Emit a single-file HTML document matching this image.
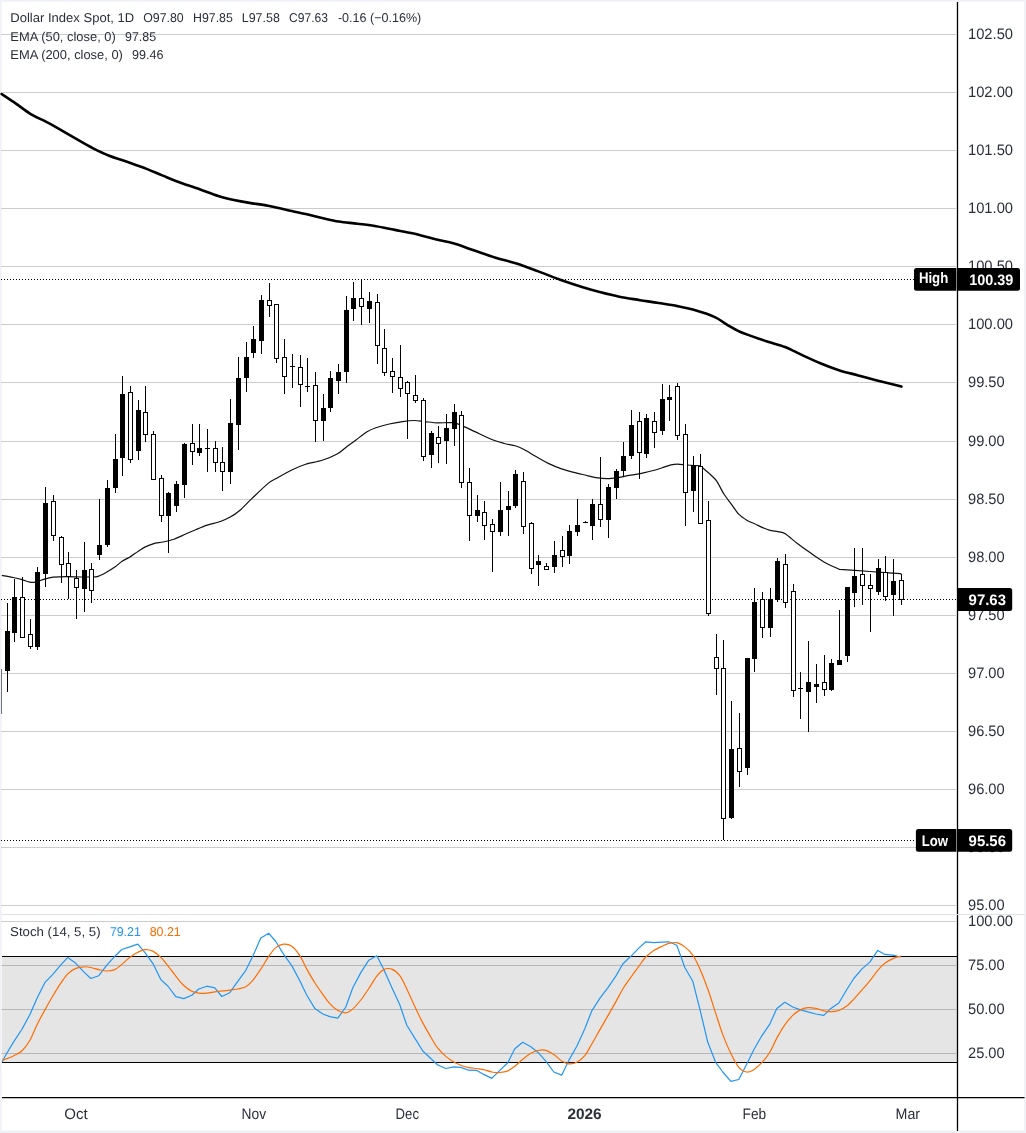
<!DOCTYPE html>
<html><head><meta charset="utf-8"><title>Dollar Index Spot</title>
<style>html,body{margin:0;padding:0;background:#fff;}body{width:1026px;height:1133px;overflow:hidden;font-family:"Liberation Sans",sans-serif;}svg text{font-family:"Liberation Sans",sans-serif;text-rendering:geometricPrecision;}svg{will-change:transform;transform:translateZ(0);}</style>
</head><body>
<svg width="1026" height="1133" viewBox="0 0 1026 1133" style="display:block" font-family="'Liberation Sans', sans-serif">
<rect x="0" y="0" width="1026" height="1133" fill="#eff1f6"/>
<rect x="1.6" y="1.7" width="1022.6" height="1128.8" fill="#fff"/>
<path d="M1 34.5H956 M1 92.5H956 M1 150.5H956 M1 208.5H956 M1 266.5H956 M1 324.5H956 M1 382.5H956 M1 441.5H956 M1 499.5H956 M1 557.5H956 M1 615.5H956 M1 673.5H956 M1 731.5H956 M1 789.5H956 M1 847.5H956 M1 905.5H956 M1 921.5H956 M1 965.5H956 M1 1009.5H956 M1 1053.5H956" stroke="#cccccc" stroke-width="1" fill="none" shape-rendering="crispEdges"/>
<rect x="1.5" y="957" width="955" height="105" fill="#000" fill-opacity="0.1" shape-rendering="crispEdges"/>
<path d="M1.5 956.5H957M1.5 1062.5H957" stroke="#000" stroke-width="1" shape-rendering="crispEdges"/>
<path d="M1 279.5H957" stroke="#000" stroke-width="1" stroke-dasharray="1 2" shape-rendering="crispEdges"/>
<path d="M1 599.5H957" stroke="#000" stroke-width="1" stroke-dasharray="1 2" shape-rendering="crispEdges"/>
<path d="M1 840.5H957" stroke="#000" stroke-width="1" stroke-dasharray="1 2" shape-rendering="crispEdges"/>
<path d="M1.6 94.0C3.9 95.6 10.7 100.0 15.6 103.4C20.5 106.8 26.0 111.2 31.2 114.3C36.4 117.4 41.6 119.3 46.8 122.1C52.0 124.8 57.2 127.8 62.4 130.8C67.6 133.8 72.8 136.9 78.0 139.9C83.2 142.9 88.4 145.9 93.6 148.6C98.8 151.2 104.0 153.7 109.2 155.8C114.4 157.9 118.6 158.9 124.8 161.1C131.0 163.3 140.4 166.5 146.6 168.9C152.8 171.3 157.0 173.3 162.2 175.4C167.4 177.5 171.6 179.4 177.8 181.7C184.0 184.0 192.8 186.8 199.6 189.2C206.3 191.6 212.6 194.2 218.3 196.0C224.0 197.8 228.7 198.9 233.9 200.1C239.1 201.2 243.8 202.0 249.5 202.9C255.2 203.8 261.9 204.5 268.2 205.7C274.4 206.9 280.8 208.7 287.0 210.1C293.2 211.5 300.2 212.9 305.7 214.1C311.2 215.3 314.5 216.3 320.0 217.5C325.5 218.7 332.5 220.5 338.7 221.5C344.9 222.5 351.2 222.9 357.4 223.7C363.6 224.5 369.9 225.2 376.1 226.2C382.4 227.2 388.6 228.7 394.9 229.9C401.1 231.1 406.9 232.0 413.6 233.6C420.4 235.2 428.6 237.6 435.4 239.3C442.1 241.0 447.3 241.6 454.1 243.6C460.9 245.6 469.2 248.8 476.0 251.1C482.8 253.4 487.9 255.3 494.7 257.4C501.4 259.5 509.2 261.3 516.5 263.6C523.8 265.9 531.0 268.7 538.3 271.4C545.6 274.1 552.9 277.2 560.2 279.8C567.5 282.4 575.2 284.9 582.0 287.0C588.8 289.1 594.5 290.7 600.7 292.3C606.9 293.9 612.9 295.4 619.4 296.7C625.9 298.0 633.5 299.1 640.0 300.2C646.5 301.2 652.5 302.0 658.7 303.0C664.9 304.0 671.2 304.9 677.4 306.1C683.6 307.4 689.9 308.7 696.1 310.5C702.4 312.3 709.7 314.7 714.9 317.1C720.1 319.5 723.1 322.5 727.3 324.9C731.4 327.3 735.6 329.8 739.8 331.7C744.0 333.6 747.6 334.7 752.3 336.4C757.0 338.1 762.4 339.9 767.9 341.7C773.4 343.5 779.3 344.8 785.0 347.0C790.7 349.2 796.2 352.4 802.2 355.1C808.2 357.9 814.7 360.9 820.9 363.5C827.1 366.1 833.4 368.4 839.6 370.4C845.8 372.4 852.1 373.7 858.3 375.4C864.5 377.1 869.8 378.5 877.0 380.4C884.2 382.3 897.3 385.6 901.4 386.6" stroke="#000" stroke-width="2.6" fill="none" stroke-linejoin="round" stroke-linecap="round"/>
<path d="M1.8 575.3C3.3 575.6 10.5 576.9 13.2 577.5C15.9 578.1 19.9 579.1 22.1 579.7C24.3 580.3 28.0 581.8 29.8 582.1C31.6 582.4 33.4 582.5 35.3 582.1C37.2 581.7 41.8 579.9 44.2 579.2C46.6 578.5 50.1 577.5 53.0 577.2C55.9 576.9 62.1 576.6 66.2 576.6C70.3 576.6 79.8 577.0 83.9 577.0C88.0 577.0 94.3 577.2 97.2 576.6C100.1 576.0 103.7 573.9 106.0 572.6C108.3 571.3 112.7 568.6 114.8 567.1C116.9 565.6 120.1 562.5 122.1 561.2C124.1 559.9 127.7 558.4 129.9 557.0C132.1 555.6 136.6 552.2 138.7 550.9C140.8 549.6 143.4 547.8 145.3 546.9C147.2 546.0 150.7 544.5 153.1 543.8C155.5 543.1 160.2 542.6 163.0 542.0C165.8 541.4 171.1 540.2 174.0 539.2C176.9 538.2 182.2 535.6 185.1 534.3C188.0 533.0 193.2 530.7 196.1 529.5C199.0 528.3 204.0 526.2 207.2 525.1C210.4 524.0 217.3 522.6 220.4 521.5C223.5 520.4 227.6 518.6 230.3 517.1C233.0 515.6 237.5 512.4 240.3 510.0C243.1 507.6 247.8 502.4 251.5 498.9C255.2 495.4 264.6 486.3 268.1 483.4C271.6 480.5 274.9 479.3 278.0 477.5C281.1 475.7 287.5 472.0 291.2 470.2C294.9 468.4 301.5 465.5 305.6 464.2C309.7 462.9 317.9 461.7 322.2 460.3C326.5 458.9 334.3 455.5 337.6 453.7C340.9 451.9 344.5 448.3 347.0 446.5C349.5 444.7 353.3 441.9 356.0 439.9C358.7 437.9 364.4 433.3 367.1 431.7C369.8 430.1 373.0 428.8 375.9 427.8C378.8 426.8 385.7 424.8 389.2 424.0C392.7 423.2 399.0 422.1 402.4 421.6C405.8 421.1 411.7 420.5 414.6 420.5C417.5 420.5 421.4 421.3 424.5 421.6C427.6 421.9 433.9 422.8 437.7 422.9C441.5 423.0 450.0 422.3 453.2 422.7C456.4 423.1 459.0 424.4 462.0 425.6C465.0 426.8 471.4 430.0 475.5 431.9C479.6 433.8 489.3 438.5 493.1 440.0C496.9 441.5 501.3 442.7 504.2 443.5C507.1 444.3 512.6 445.0 515.2 445.8C517.8 446.6 521.3 448.1 524.0 449.5C526.7 450.9 531.9 454.2 535.1 456.1C538.3 458.0 544.8 461.7 548.3 463.4C551.8 465.1 558.1 467.7 561.6 468.9C565.1 470.1 571.3 471.8 574.8 472.7C578.3 473.6 585.3 475.1 588.1 475.8C590.9 476.5 593.5 477.2 596.0 477.6C598.5 478.0 604.2 478.7 607.1 478.7C610.0 478.7 615.2 478.0 618.1 477.6C621.0 477.2 626.3 475.9 629.2 475.4C632.1 474.9 637.0 474.3 640.2 473.6C643.4 472.9 650.5 471.3 653.4 470.5C656.3 469.7 659.9 468.5 662.3 467.7C664.7 466.9 669.0 465.3 671.1 464.8C673.2 464.3 675.6 464.1 677.7 464.1C679.8 464.1 684.2 464.8 686.6 465.0C689.0 465.2 693.5 465.3 695.4 465.5C697.3 465.7 698.8 465.1 700.6 466.2C702.4 467.3 707.0 471.5 709.1 473.4C711.2 475.3 714.5 478.1 716.5 480.8C718.5 483.5 721.9 490.9 723.9 494.0C725.9 497.1 729.3 501.4 731.3 504.1C733.3 506.8 736.6 512.0 738.7 514.2C740.8 516.4 745.1 519.2 747.2 520.5C749.3 521.8 752.6 522.8 754.6 523.7C756.6 524.6 759.9 526.5 762.0 527.4C764.1 528.3 767.9 529.7 770.0 530.3C772.1 530.9 775.9 531.1 777.9 531.6C779.9 532.1 782.7 532.2 785.3 533.8C787.9 535.4 794.0 541.0 797.4 543.6C800.8 546.2 807.2 550.7 810.7 553.1C814.2 555.5 820.1 559.7 823.9 561.9C827.7 564.1 837.4 568.4 839.5 569.4L855 570.4L870 571.5L885 572.6L900.5 573.7L901.4 574.3" stroke="#111" stroke-width="1.2" fill="none" stroke-linejoin="round"/>
<path d="M1.5 669V714" stroke="#70737b" stroke-width="1" shape-rendering="crispEdges"/>
<g shape-rendering="crispEdges">
<path d="M7.5 603V692 M14.5 579V642 M22.5 577V638 M30.5 619V649 M37.5 567V650 M45.5 487V587 M53.5 495V541 M61.5 536V583 M68.5 552V599 M76.5 570V619 M84.5 542V612 M91.5 563V603 M99.5 499V560 M107.5 480V547 M115.5 434V493 M122.5 376V476 M130.5 386V463 M138.5 400V460 M145.5 386V442 M153.5 431V480 M161.5 475V522 M168.5 492V553 M176.5 481V512 M184.5 443V498 M192.5 424V465 M199.5 424V456 M207.5 429V472 M215.5 441V472 M222.5 447V491 M230.5 399V484 M238.5 357V450 M246.5 342V392 M253.5 326V358 M261.5 295V354 M269.5 283V317 M276.5 304V363 M284.5 339V394 M292.5 354V388 M300.5 355V407 M307.5 358V392 M315.5 372V442 M323.5 394V441 M330.5 371V412 M338.5 364V394 M346.5 296V383 M353.5 282V321 M361.5 279V325 M369.5 292V323 M377.5 294V364 M384.5 329V376 M392.5 358V393 M400.5 345V397 M407.5 381V439 M415.5 375V403 M423.5 398V461 M431.5 431V468 M438.5 426V463 M446.5 414V464 M454.5 404V446 M461.5 411V488 M469.5 468V541 M477.5 495V522 M484.5 501V540 M492.5 519V572 M500.5 482V536 M508.5 491V536 M515.5 470V508 M523.5 472V534 M531.5 522V574 M538.5 555V586 M546.5 563V570 M554.5 541V573 M562.5 536V567 M569.5 525V564 M577.5 499V536 M585.5 521V522 M592.5 499V540 M600.5 457V527 M608.5 484V538 M616.5 469V499 M623.5 442V477 M631.5 410V459 M639.5 412V479 M646.5 414V458 M654.5 412V448 M662.5 384V435 M669.5 385V421 M677.5 383V440 M685.5 424V526 M693.5 456V512 M700.5 454V524 M708.5 501V616 M716.5 634V695 M723.5 640V840 M731.5 701V819 M739.5 713V787 M747.5 658V775 M754.5 588V672 M762.5 592V638 M770.5 588V637 M777.5 558V602 M785.5 554V608 M793.5 584V697 M800.5 672V719 M808.5 641V732 M816.5 664V703 M824.5 655V696 M831.5 659V691 M839.5 610V665 M847.5 587V662 M854.5 548V607 M862.5 548V605 M870.5 574V632 M878.5 559V595 M885.5 556V601 M893.5 559V616 M901.5 574V605" stroke="#000" stroke-width="1" fill="none"/>
<path d="M5.0 631h5V671h-5z M12.0 597h5V633h-5z M35.0 572h5V647h-5z M43.0 503h5V574h-5z M82.0 570h5V589h-5z M97.0 545h5V555h-5z M105.0 488h5V545h-5z M113.0 459h5V488h-5z M120.0 394h5V458h-5z M136.0 410h5V451h-5z M166.0 493h5V516h-5z M174.0 484h5V506h-5z M182.0 444h5V485h-5z M197.0 448h5V453h-5z M228.0 423h5V472h-5z M236.0 378h5V425h-5z M244.0 357h5V378h-5z M251.0 339h5V353h-5z M259.0 300h5V341h-5z M321.0 408h5V421h-5z M328.0 378h5V408h-5z M336.0 372h5V381h-5z M344.0 310h5V372h-5z M351.0 298h5V309h-5z M367.0 301h5V309h-5z M429.0 433h5V455h-5z M444.0 428h5V441h-5z M452.0 412h5V429h-5z M475.0 510h5V516h-5z M498.0 510h5V532h-5z M506.0 506h5V510h-5z M513.0 474h5V506h-5z M536.0 561h5V565h-5z M552.0 555h5V567h-5z M567.0 531h5V556h-5z M575.0 525h5V532h-5z M590.0 504h5V526h-5z M606.0 487h5V520h-5z M614.0 471h5V488h-5z M621.0 456h5V471h-5z M629.0 425h5V456h-5z M644.0 418h5V454h-5z M660.0 399h5V431h-5z M667.0 397h5V400h-5z M691.0 465h5V491h-5z M729.0 749h5V818h-5z M745.0 658h5V768h-5z M752.0 602h5V659h-5z M768.0 599h5V628h-5z M775.0 561h5V600h-5z M806.0 682h5V692h-5z M814.0 684h5V687h-5z M829.0 663h5V690h-5z M837.0 660h5V665h-5z M845.0 587h5V656h-5z M852.0 576h5V593h-5z M876.0 568h5V592h-5z M891.0 581h5V595h-5z" fill="#000"/>
<path d="M20.5 597.5h4V637.5h-4z M28.5 634.5h4V646.5h-4z M51.5 501.5h4V535.5h-4z M59.5 537.5h4V564.5h-4z M66.5 563.5h4V576.5h-4z M74.5 578.5h4V587.5h-4z M89.5 569.5h4V590.5h-4z M128.5 392.5h4V459.5h-4z M143.5 412.5h4V434.5h-4z M151.5 434.5h4V479.5h-4z M159.5 478.5h4V515.5h-4z M190.5 443.5h4V451.5h-4z M213.5 448.5h4V462.5h-4z M220.5 462.5h4V471.5h-4z M267.5 300.5h4V305.5h-4z M274.5 304.5h4V358.5h-4z M282.5 357.5h4V376.5h-4z M298.5 367.5h4V384.5h-4z M313.5 385.5h4V420.5h-4z M359.5 298.5h4V306.5h-4z M375.5 302.5h4V345.5h-4z M382.5 348.5h4V372.5h-4z M390.5 371.5h4V376.5h-4z M398.5 377.5h4V388.5h-4z M405.5 382.5h4V393.5h-4z M413.5 395.5h4V400.5h-4z M421.5 400.5h4V456.5h-4z M436.5 437.5h4V443.5h-4z M459.5 415.5h4V482.5h-4z M467.5 482.5h4V515.5h-4z M482.5 512.5h4V525.5h-4z M490.5 524.5h4V531.5h-4z M521.5 481.5h4V526.5h-4z M529.5 523.5h4V568.5h-4z M544.5 566.5h4V569.5h-4z M560.5 550.5h4V556.5h-4z M598.5 504.5h4V519.5h-4z M637.5 421.5h4V452.5h-4z M652.5 421.5h4V432.5h-4z M675.5 386.5h4V435.5h-4z M683.5 434.5h4V492.5h-4z M698.5 466.5h4V523.5h-4z M706.5 520.5h4V613.5h-4z M714.5 657.5h4V668.5h-4z M721.5 668.5h4V818.5h-4z M737.5 748.5h4V771.5h-4z M760.5 599.5h4V627.5h-4z M783.5 564.5h4V602.5h-4z M791.5 591.5h4V690.5h-4z M822.5 682.5h4V689.5h-4z M860.5 574.5h4V585.5h-4z M868.5 585.5h4V588.5h-4z M883.5 572.5h4V596.5h-4z M899.5 580.5h4V599.5h-4z" fill="#fff" stroke="#000" stroke-width="1"/>
<path d="M205.0 448.5h5 M290.0 366.5h5 M305.0 386.5h5 M583.0 522.5h5 M798.0 688.5h5" stroke="#000" stroke-width="1" fill="none"/>
</g>
<path d="M2 1062.0 L6.8 1053.3 L13.8 1041.6 L21.8 1029.5 L29.8 1014.7 L36.8 998.8 L44.8 982.7 L52.8 974.3 L60.8 964.9 L67.8 957.4 L75.8 963.3 L83.8 971.9 L90.8 978.5 L98.8 975.7 L106.8 965.1 L114.8 956.3 L121.8 949.5 L129.8 946.9 L137.8 944.1 L144.8 952.3 L152.8 963.3 L160.8 979.6 L167.8 986.0 L175.8 996.7 L183.8 998.6 L191.8 995.3 L198.8 989.0 L206.8 986.2 L214.8 987.8 L221.8 996.5 L229.8 992.7 L237.8 981.3 L245.8 970.3 L252.8 956.3 L260.8 938.0 L268.8 933.3 L275.8 941.5 L283.8 954.6 L291.8 965.6 L299.8 980.8 L306.8 995.3 L314.8 1008.4 L322.8 1014.0 L329.8 1016.6 L337.8 1018.2 L345.8 1007.0 L352.8 987.8 L360.8 972.6 L368.8 960.2 L376.8 955.8 L383.8 969.6 L391.8 987.4 L399.8 1004.7 L406.8 1025.3 L414.8 1038.1 L422.8 1051.0 L430.8 1058.5 L437.8 1065.0 L445.8 1068.5 L453.8 1066.9 L460.8 1067.4 L468.8 1070.2 L476.8 1070.4 L483.8 1074.4 L491.8 1078.4 L499.8 1070.4 L507.8 1062.7 L514.8 1048.7 L522.8 1042.3 L530.8 1046.8 L537.8 1052.2 L545.8 1061.1 L553.8 1072.0 L561.8 1075.1 L568.8 1060.4 L576.8 1046.3 L584.8 1028.8 L591.8 1010.8 L599.8 998.4 L607.8 987.8 L615.8 976.1 L622.8 964.0 L630.8 956.3 L638.8 948.1 L645.8 941.8 L653.8 942.7 L661.8 942.2 L668.8 941.8 L676.8 945.3 L684.8 967.5 L692.8 981.3 L699.8 1008.9 L707.8 1042.3 L715.8 1062.7 L722.8 1072.0 L730.8 1081.4 L738.8 1079.5 L746.8 1063.9 L753.8 1049.8 L761.8 1035.8 L769.8 1024.1 L776.8 1008.4 L784.8 1002.3 L792.8 1007.0 L799.8 1009.6 L807.8 1011.9 L815.8 1014.0 L823.8 1015.4 L830.8 1008.4 L838.8 1003.0 L846.8 989.5 L853.8 978.5 L861.8 969.1 L869.8 962.1 L877.8 950.4 L884.8 954.4 L892.8 955.1 L900.8 957.0" stroke="#2196f3" stroke-width="1.2" fill="none" stroke-linejoin="round"/>
<path d="M2.0 1060.4C2.8 1060.1 4.8 1059.5 6.8 1058.7C8.8 1057.9 11.3 1057.0 13.8 1055.7C16.3 1054.4 19.1 1053.5 21.8 1051.0C24.5 1048.5 27.3 1044.8 29.8 1040.5C32.3 1036.2 34.3 1030.3 36.8 1025.3C39.3 1020.2 42.1 1014.9 44.8 1010.1C47.5 1005.2 50.1 1000.5 52.8 996.0C55.5 991.5 58.3 986.9 60.8 983.2C63.3 979.5 65.3 976.3 67.8 973.8C70.3 971.3 73.1 969.6 75.8 968.4C78.5 967.3 81.3 966.9 83.8 966.8C86.3 966.6 88.3 967.0 90.8 967.5C93.3 968.0 96.1 969.0 98.8 969.6C101.5 970.2 104.1 971.0 106.8 971.0C109.5 971.0 112.3 970.7 114.8 969.6C117.3 968.5 119.3 966.5 121.8 964.4C124.3 962.4 127.1 959.5 129.8 957.4C132.5 955.4 135.3 953.6 137.8 952.3C140.3 951.0 142.3 949.9 144.8 949.7C147.3 949.5 150.1 949.8 152.8 951.1C155.5 952.4 158.3 955.0 160.8 957.4C163.3 959.8 165.3 962.5 167.8 965.6C170.3 968.7 173.1 972.8 175.8 976.1C178.5 979.5 181.1 983.0 183.8 985.5C186.5 988.0 189.3 990.1 191.8 991.3C194.3 992.6 196.3 992.9 198.8 993.2C201.3 993.5 204.1 993.5 206.8 993.2C209.5 993.0 212.3 992.2 214.8 991.8C217.3 991.4 219.3 991.2 221.8 990.9C224.3 990.6 227.1 990.5 229.8 990.2C232.5 989.9 235.1 989.6 237.8 989.0C240.5 988.4 243.3 988.1 245.8 986.7C248.3 985.2 250.3 983.3 252.8 980.4C255.3 977.4 258.1 973.1 260.8 969.1C263.5 965.1 266.3 959.8 268.8 956.3C271.3 952.7 273.3 949.6 275.8 947.6C278.3 945.6 281.1 944.3 283.8 944.1C286.5 943.9 289.1 944.3 291.8 946.2C294.5 948.1 297.3 951.7 299.8 955.6C302.3 959.4 304.3 964.6 306.8 969.1C309.3 973.6 312.1 978.5 314.8 982.7C317.5 986.9 320.3 990.9 322.8 994.4C325.3 997.9 327.3 1001.1 329.8 1003.7C332.3 1006.4 335.1 1009.0 337.8 1010.5C340.5 1012.0 343.3 1013.1 345.8 1012.9C348.3 1012.6 350.3 1011.0 352.8 1008.9C355.3 1006.7 358.1 1003.4 360.8 1000.0C363.5 996.6 366.1 992.5 368.8 988.5C371.5 984.6 374.3 979.3 376.8 976.1C379.3 973.0 381.3 970.8 383.8 969.6C386.3 968.4 389.1 968.1 391.8 969.1C394.5 970.1 397.3 972.4 399.8 975.7C402.3 979.0 404.3 983.9 406.8 989.0C409.3 994.2 412.1 1000.9 414.8 1006.5C417.5 1012.2 420.1 1017.9 422.8 1022.9C425.5 1028.0 428.3 1032.7 430.8 1037.0C433.3 1041.2 435.3 1045.0 437.8 1048.2C440.3 1051.4 443.1 1054.1 445.8 1056.4C448.5 1058.7 451.3 1060.5 453.8 1062.0C456.3 1063.5 458.3 1064.3 460.8 1065.3C463.3 1066.2 466.1 1067.1 468.8 1067.6C471.5 1068.1 474.3 1068.2 476.8 1068.5C479.3 1068.9 481.3 1069.1 483.8 1069.7C486.3 1070.3 489.1 1071.6 491.8 1072.0C494.5 1072.5 497.1 1072.7 499.8 1072.5C502.5 1072.3 505.3 1071.9 507.8 1070.9C510.3 1069.8 512.3 1068.1 514.8 1066.2C517.3 1064.2 520.1 1061.3 522.8 1059.2C525.5 1057.0 528.3 1054.8 530.8 1053.3C533.3 1051.9 535.3 1051.0 537.8 1050.5C540.3 1050.0 543.1 1049.6 545.8 1050.3C548.5 1051.0 551.1 1052.7 553.8 1054.5C556.5 1056.3 559.3 1059.5 561.8 1061.1C564.3 1062.6 566.3 1063.7 568.8 1063.9C571.3 1064.1 574.1 1063.6 576.8 1062.2C579.5 1060.9 582.3 1058.7 584.8 1055.7C587.3 1052.6 589.3 1048.3 591.8 1044.0C594.3 1039.7 597.1 1034.6 599.8 1029.9C602.5 1025.3 605.1 1020.6 607.8 1015.9C610.5 1011.2 613.3 1006.4 615.8 1001.9C618.3 997.4 620.3 993.1 622.8 989.0C625.3 984.9 628.1 981.1 630.8 977.3C633.5 973.5 636.3 969.7 638.8 966.3C641.3 962.9 643.3 959.6 645.8 957.0C648.3 954.3 651.1 952.2 653.8 950.4C656.5 948.7 659.3 947.6 661.8 946.4C664.3 945.3 666.3 944.0 668.8 943.4C671.3 942.8 674.1 942.1 676.8 942.7C679.5 943.3 682.1 944.8 684.8 946.9C687.5 949.0 690.3 951.5 692.8 955.1C695.3 958.7 697.3 963.0 699.8 968.7C702.3 974.3 705.1 981.5 707.8 989.0C710.5 996.5 713.3 1006.0 715.8 1013.6C718.3 1021.2 720.3 1028.0 722.8 1034.6C725.3 1041.2 728.1 1047.9 730.8 1053.3C733.5 1058.8 736.1 1064.2 738.8 1067.4C741.5 1070.5 744.3 1071.7 746.8 1072.0C749.3 1072.4 751.3 1071.3 753.8 1069.7C756.3 1068.1 759.1 1065.6 761.8 1062.7C764.5 1059.8 767.3 1056.3 769.8 1052.2C772.3 1048.1 774.3 1042.7 776.8 1038.1C779.3 1033.6 782.1 1028.6 784.8 1024.8C787.5 1021.0 790.3 1017.9 792.8 1015.4C795.3 1013.0 797.3 1011.3 799.8 1010.1C802.3 1008.8 805.1 1008.0 807.8 1007.7C810.5 1007.4 813.1 1007.9 815.8 1008.4C818.5 1008.9 821.3 1010.2 823.8 1010.8C826.3 1011.3 828.3 1011.7 830.8 1011.7C833.3 1011.7 836.1 1011.5 838.8 1010.5C841.5 1009.6 844.3 1008.0 846.8 1006.1C849.3 1004.2 851.3 1001.7 853.8 999.1C856.3 996.4 859.1 993.2 861.8 990.2C864.5 987.1 867.1 984.1 869.8 980.8C872.5 977.5 875.3 973.2 877.8 970.3C880.3 967.4 882.3 965.2 884.8 963.3C887.3 961.3 890.1 959.8 892.8 958.6C895.5 957.4 899.5 956.6 900.8 956.3" stroke="#ff6d00" stroke-width="1.2" fill="none" stroke-linejoin="round"/>
<path d="M957.5 2V1131" stroke="#000" stroke-width="1.3"/>
<path d="M1.5 914.5H1024.5" stroke="#dfe2ec" stroke-width="1.2"/>
<path d="M2 1097.6H1024.5" stroke="#000" stroke-width="1.3"/>
<text x="968.0" y="38.8" font-size="15.2" textLength="45.0" lengthAdjust="spacingAndGlyphs" fill="#2b2f3a">102.50</text>
<text x="968.0" y="96.8" font-size="15.2" textLength="45.0" lengthAdjust="spacingAndGlyphs" fill="#2b2f3a">102.00</text>
<text x="968.0" y="154.8" font-size="15.2" textLength="45.0" lengthAdjust="spacingAndGlyphs" fill="#2b2f3a">101.50</text>
<text x="968.0" y="212.8" font-size="15.2" textLength="45.0" lengthAdjust="spacingAndGlyphs" fill="#2b2f3a">101.00</text>
<text x="968.0" y="270.8" font-size="15.2" textLength="45.0" lengthAdjust="spacingAndGlyphs" fill="#2b2f3a">100.50</text>
<text x="968.0" y="328.8" font-size="15.2" textLength="45.0" lengthAdjust="spacingAndGlyphs" fill="#2b2f3a">100.00</text>
<text x="968.0" y="386.8" font-size="15.2" textLength="36.6" lengthAdjust="spacingAndGlyphs" fill="#2b2f3a">99.50</text>
<text x="968.0" y="445.8" font-size="15.2" textLength="36.6" lengthAdjust="spacingAndGlyphs" fill="#2b2f3a">99.00</text>
<text x="968.0" y="503.8" font-size="15.2" textLength="36.6" lengthAdjust="spacingAndGlyphs" fill="#2b2f3a">98.50</text>
<text x="968.0" y="561.8" font-size="15.2" textLength="36.6" lengthAdjust="spacingAndGlyphs" fill="#2b2f3a">98.00</text>
<text x="968.0" y="619.8" font-size="15.2" textLength="36.6" lengthAdjust="spacingAndGlyphs" fill="#2b2f3a">97.50</text>
<text x="968.0" y="677.8" font-size="15.2" textLength="36.6" lengthAdjust="spacingAndGlyphs" fill="#2b2f3a">97.00</text>
<text x="968.0" y="735.8" font-size="15.2" textLength="36.6" lengthAdjust="spacingAndGlyphs" fill="#2b2f3a">96.50</text>
<text x="968.0" y="793.8" font-size="15.2" textLength="36.6" lengthAdjust="spacingAndGlyphs" fill="#2b2f3a">96.00</text>
<text x="968.0" y="851.8" font-size="15.2" textLength="36.6" lengthAdjust="spacingAndGlyphs" fill="#2b2f3a">95.50</text>
<text x="968.0" y="909.8" font-size="15.2" textLength="36.6" lengthAdjust="spacingAndGlyphs" fill="#2b2f3a">95.00</text>
<text x="968.0" y="925.8" font-size="15.2" textLength="45.0" lengthAdjust="spacingAndGlyphs" fill="#2b2f3a">100.00</text>
<text x="968.0" y="969.8" font-size="15.2" textLength="36.6" lengthAdjust="spacingAndGlyphs" fill="#2b2f3a">75.00</text>
<text x="968.0" y="1013.8" font-size="15.2" textLength="36.6" lengthAdjust="spacingAndGlyphs" fill="#2b2f3a">50.00</text>
<text x="968.0" y="1057.8" font-size="15.2" textLength="36.6" lengthAdjust="spacingAndGlyphs" fill="#2b2f3a">25.00</text>
<path d="M916.5 268.1H956.4V290.7H916.5a2.5 2.5 0 0 1 -2.5 -2.5V270.6a2.5 2.5 0 0 1 2.5 -2.5z" fill="#000"/>
<path d="M958 268.1H1017.5a2.5 2.5 0 0 1 2.5 2.5V288.2a2.5 2.5 0 0 1 -2.5 2.5H958V268.1z" fill="#000"/>
<text x="918.9" y="282.8" font-size="15.2" textLength="29.4" lengthAdjust="spacingAndGlyphs" font-weight="bold" fill="#fff">High</text>
<text x="969.2" y="284.7" font-size="15.2" textLength="44.2" lengthAdjust="spacingAndGlyphs" font-weight="bold" fill="#fff">100.39</text>
<path d="M958 588.1H1009.7a2.5 2.5 0 0 1 2.5 2.5V608.4a2.5 2.5 0 0 1 -2.5 2.5H958V588.1z" fill="#000"/>
<text x="968.6" y="604.8" font-size="15.2" textLength="37.4" lengthAdjust="spacingAndGlyphs" font-weight="bold" fill="#fff">97.63</text>
<path d="M918.4 829H956.4V851.8H918.4a2.5 2.5 0 0 1 -2.5 -2.5V831.5a2.5 2.5 0 0 1 2.5 -2.5z" fill="#000"/>
<path d="M958 829H1009.7a2.5 2.5 0 0 1 2.5 2.5V849.3a2.5 2.5 0 0 1 -2.5 2.5H958V829z" fill="#000"/>
<text x="921.8" y="845.6" font-size="15.2" textLength="26.3" lengthAdjust="spacingAndGlyphs" font-weight="bold" fill="#fff">Low</text>
<text x="968.6" y="846.0" font-size="15.2" textLength="37.4" lengthAdjust="spacingAndGlyphs" font-weight="bold" fill="#fff">95.56</text>
<text x="64.2" y="1118.7" font-size="15.2" textLength="23.4" lengthAdjust="spacingAndGlyphs" fill="#2b2f3a">Oct</text>
<text x="241.6" y="1118.7" font-size="15.2" textLength="24.5" lengthAdjust="spacingAndGlyphs" fill="#2b2f3a">Nov</text>
<text x="395.6" y="1118.7" font-size="15.2" textLength="23.4" lengthAdjust="spacingAndGlyphs" fill="#2b2f3a">Dec</text>
<text x="567.4" y="1118.7" font-size="15.2" textLength="34.3" lengthAdjust="spacingAndGlyphs" font-weight="bold" fill="#2b2f3a">2026</text>
<text x="742.6" y="1118.7" font-size="15.2" textLength="23.6" lengthAdjust="spacingAndGlyphs" fill="#2b2f3a">Feb</text>
<text x="895.6" y="1118.7" font-size="15.2" textLength="24.5" lengthAdjust="spacingAndGlyphs" fill="#2b2f3a">Mar</text>
<text x="10.3" y="22.1" font-size="12.8" textLength="123.9" lengthAdjust="spacingAndGlyphs" fill="#2b2f3a">Dollar Index Spot, 1D</text>
<text x="143.2" y="22.1" font-size="12.8" textLength="40.5" lengthAdjust="spacingAndGlyphs" fill="#2b2f3a">O97.80</text>
<text x="193.0" y="22.1" font-size="12.8" textLength="39.8" lengthAdjust="spacingAndGlyphs" fill="#2b2f3a">H97.85</text>
<text x="241.8" y="22.1" font-size="12.8" textLength="38.0" lengthAdjust="spacingAndGlyphs" fill="#2b2f3a">L97.58</text>
<text x="289.0" y="22.1" font-size="12.8" textLength="39.0" lengthAdjust="spacingAndGlyphs" fill="#2b2f3a">C97.63</text>
<text x="337.9" y="22.1" font-size="12.8" textLength="83.4" lengthAdjust="spacingAndGlyphs" fill="#2b2f3a">-0.16 (−0.16%)</text>
<text x="10.3" y="40.7" font-size="12.8" textLength="105.5" lengthAdjust="spacingAndGlyphs" fill="#2b2f3a">EMA (50, close, 0)</text>
<text x="125.0" y="40.7" font-size="12.8" textLength="31.1" lengthAdjust="spacingAndGlyphs" fill="#2b2f3a">97.85</text>
<text x="10.3" y="59.4" font-size="12.8" textLength="112.6" lengthAdjust="spacingAndGlyphs" fill="#2b2f3a">EMA (200, close, 0)</text>
<text x="131.9" y="59.4" font-size="12.8" textLength="31.5" lengthAdjust="spacingAndGlyphs" fill="#2b2f3a">99.46</text>
<text x="10.1" y="935.9" font-size="12.8" textLength="90.5" lengthAdjust="spacingAndGlyphs" fill="#2b2f3a">Stoch (14, 5, 5)</text>
<text x="109.9" y="935.9" font-size="12.8" textLength="30.9" lengthAdjust="spacingAndGlyphs" fill="#2196f3">79.21</text>
<text x="149.7" y="935.9" font-size="12.8" textLength="31.1" lengthAdjust="spacingAndGlyphs" fill="#ff6d00">80.21</text>
</svg>
</body></html>
